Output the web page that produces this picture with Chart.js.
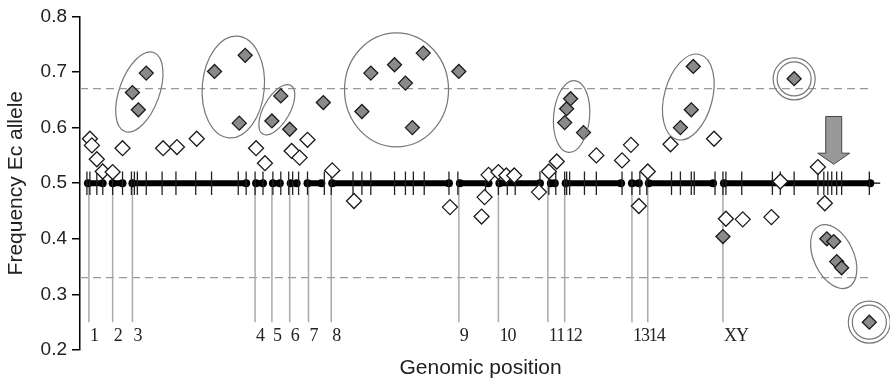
<!DOCTYPE html>
<html>
<head>
<meta charset="utf-8">
<script src="https://cdn.jsdelivr.net/npm/chart.js@4"></script>
<style>
  html, body { margin: 0; padding: 0; background: #fff; }
  #wrap { width: 890px; height: 381px; }
</style>
</head>
<body>
<div id="wrap"><canvas id="chart"></canvas></div>
<script>
// allele frequencies, open diamonds (not significant)
const whitePos = [10, 12, 17, 23, 33, 43, 84, 98, 118, 178, 187, 214, 222, 230, 255, 277, 374, 406, 409, 413, 423, 431, 439, 464, 474, 482, 522, 548, 557, 565, 574, 597, 641, 653, 670, 699, 708, 746, 753];
const whiteFreq = [0.580, 0.568, 0.543, 0.521, 0.520, 0.563, 0.563, 0.565, 0.580, 0.563, 0.536, 0.558, 0.546, 0.578, 0.523, 0.468, 0.457, 0.440, 0.475, 0.515, 0.520, 0.514, 0.514, 0.484, 0.521, 0.539, 0.550, 0.541, 0.569, 0.459, 0.521, 0.570, 0.580, 0.436, 0.435, 0.439, 0.503, 0.529, 0.464];

// filled diamonds (significant deviation)
const grayPos = [53, 59, 67, 136, 161, 167, 194, 203, 212, 246, 285, 294, 318, 329, 336, 347, 383, 490, 492, 496, 509, 607, 618, 620, 650, 722, 755, 762, 765, 770, 798];
const grayFreq = [0.663, 0.632, 0.698, 0.701, 0.608, 0.730, 0.612, 0.657, 0.597, 0.645, 0.629, 0.698, 0.713, 0.680, 0.600, 0.734, 0.701, 0.609, 0.634, 0.652, 0.591, 0.600, 0.632, 0.710, 0.404, 0.688, 0.400, 0.395, 0.359, 0.348, 0.250];

// markers on the genome line
const markerPos = [7, 10, 17, 23, 33, 43, 52, 55, 58, 67, 83, 97, 117, 133, 160, 168, 177, 185, 195, 203, 211, 215, 221, 230, 247, 254, 276, 285, 294, 318, 329, 337, 348, 373, 382, 410, 423, 432, 440, 465, 474, 481, 490, 492, 495, 510, 522, 548, 558, 566, 573, 598, 607, 618, 621, 642, 650, 653, 669, 700, 708, 722, 746, 752, 756, 760, 765, 770, 798];

// chromosome stretches on the genome line
const segStart = [8, 33, 53, 178, 195, 213, 230, 255, 384, 424, 476, 491, 558, 575, 651];
const segEnd = [23, 43, 168, 185, 202, 219, 244, 373, 413, 465, 480, 547, 565, 640, 799];

// chromosome starts and names
const chromPos = [9, 33, 53, 177, 194, 212, 231, 254, 383, 423, 473, 490, 558, 574, 650];
const chromLabels = ['1', '2', '3', '4', '5', '6', '7', '8', '9', '10', '11', '12', '13', '14', 'XY'];

const thresholds = [0.67, 0.33];

// groups circled in the figure: [position, frequency]
const groupCenters = [[60, 0.664], [155, 0.673], [199, 0.632], [320, 0.668], [497, 0.620], [615, 0.655], [762, 0.368]];
const singleCenters = [[722, 0.6875], [798, 0.25]];
const arrowAt = [762, 0.62, 0.554, 0.534];

function gapped(pairs) {
  const out = [];
  pairs.forEach(p => { out.push(p[0], p[1], { x: p[0].x, y: null }); });
  return out;
}

const tickData = gapped(markerPos.map(p => [{ x: p, y: 0.479 }, { x: p, y: 0.521 }]));
const segData = gapped(segStart.map((s, i) => [{ x: s, y: 0.5 }, { x: segEnd[i], y: 0.5 }]));
const chromData = gapped(chromPos.map(p => [{ x: p, y: 0.5 }, { x: p, y: 0.25 }]));

const ellipseStyle = [
  [20, 42, 20], [31, 51, 5], [13, 28, 30], [52, 57, 0], [18, 36, 5], [24, 44, 15], [20, 34, -25]
];

const annotate = {
  id: 'annotate',
  afterDatasetsDraw(chart) {
    const ctx = chart.ctx, xs = chart.scales.x, ys = chart.scales.y;
    ctx.save();
    // chromosome names
    ctx.fillStyle = '#222';
    ctx.font = '18px "Liberation Serif", serif';
    ctx.letterSpacing = '-1px';
    ctx.textBaseline = 'middle';
    ctx.textAlign = 'left';
    chromPos.forEach((p, i) => {
      ctx.fillText(chromLabels[i], xs.getPixelForValue(p) + 1, ys.getPixelForValue(0.5) + 153);
    });
    ctx.letterSpacing = '0px';
    // ellipses
    ctx.strokeStyle = '#777';
    ctx.lineWidth = 1.2;
    groupCenters.forEach((c, i) => {
      const s = ellipseStyle[i];
      ctx.beginPath();
      ctx.ellipse(xs.getPixelForValue(c[0]), ys.getPixelForValue(c[1]), s[0], s[1], s[2] * Math.PI / 180, 0, Math.PI * 2);
      ctx.stroke();
    });
    singleCenters.forEach(c => {
      [21, 17].forEach(r => {
        ctx.beginPath();
        ctx.arc(xs.getPixelForValue(c[0]), ys.getPixelForValue(c[1]), r, 0, Math.PI * 2);
        ctx.stroke();
      });
    });
    // arrow
    const ax = xs.getPixelForValue(arrowAt[0]);
    const top = ys.getPixelForValue(arrowAt[1]);
    const base = ys.getPixelForValue(arrowAt[2]);
    const tip = ys.getPixelForValue(arrowAt[3]);
    ctx.beginPath();
    ctx.moveTo(ax - 8, top);
    ctx.lineTo(ax + 8, top);
    ctx.lineTo(ax + 8, base);
    ctx.lineTo(ax + 16, base);
    ctx.lineTo(ax, tip);
    ctx.lineTo(ax - 16, base);
    ctx.lineTo(ax - 8, base);
    ctx.closePath();
    ctx.fillStyle = '#999';
    ctx.fill();
    ctx.strokeStyle = '#444';
    ctx.lineWidth = 1;
    ctx.stroke();
    ctx.restore();
  }
};

new Chart(document.getElementById('chart'), {
  type: 'scatter',
  data: {
    datasets: [
      {
        label: 'significant',
        data: grayPos.map((p, i) => ({ x: p, y: grayFreq[i] })),
        pointStyle: 'rectRot',
        pointRadius: 7,
        backgroundColor: '#8a8a8a',
        borderColor: '#1a1a1a',
        borderWidth: 1.3,
        order: 0
      },
      {
        label: 'not significant',
        data: whitePos.map((p, i) => ({ x: p, y: whiteFreq[i] })),
        pointStyle: 'rectRot',
        pointRadius: 7.5,
        backgroundColor: '#fff',
        borderColor: '#1a1a1a',
        borderWidth: 1.3,
        order: 1
      },
      {
        label: 'markers',
        data: tickData,
        showLine: true,
        spanGaps: false,
        borderColor: '#222',
        borderWidth: 1.3,
        pointRadius: 0,
        order: 2
      },
      {
        label: 'genome',
        data: segData,
        showLine: true,
        spanGaps: false,
        borderColor: '#000',
        borderWidth: 6,
        pointStyle: 'circle',
        pointRadius: 4,
        pointBackgroundColor: '#000',
        pointBorderWidth: 0,
        order: 3
      },
      {
        label: 'genome end',
        data: [{ x: 799, y: 0.5 }, { x: 809, y: 0.5 }],
        showLine: true,
        borderColor: '#000',
        borderWidth: 1.3,
        pointRadius: 0,
        order: 4
      },
      {
        label: 'chromosomes',
        data: chromData,
        showLine: true,
        spanGaps: false,
        borderColor: '#aaa',
        borderWidth: 1.5,
        pointRadius: 0,
        order: 5
      },
      ...thresholds.map((t, i) => ({
        label: 'threshold ' + t,
        data: [{ x: 0, y: t }, { x: 800, y: t }],
        showLine: true,
        borderColor: '#999',
        borderWidth: 1.2,
        borderDash: [8, 5],
        pointRadius: 0,
        order: 6 + i
      }))
    ]
  },
  options: {
    responsive: true,
    maintainAspectRatio: false,
    animation: false,
    layout: { padding: { top: 14, right: 0, left: 0, bottom: 0 } },
    plugins: {
      legend: { display: false },
      tooltip: { enabled: false }
    },
    scales: {
      x: {
        type: 'linear',
        min: 0,
        max: 810,
        grid: { display: false },
        border: { display: false },
        ticks: { display: false },
        title: {
          display: true,
          text: 'Genomic position',
          color: '#222',
          font: { family: '"Liberation Sans", Arial, sans-serif', size: 21 },
          padding: { top: 0, bottom: 0 }
        },
        afterFit(scale) { scale.height = 31; }
      },
      y: {
        min: 0.2,
        max: 0.8,
        ticks: {
          stepSize: 0.1,
          color: '#222',
          padding: 5,
          font: { family: '"Liberation Sans", Arial, sans-serif', size: 19 },
          callback: v => v.toFixed(1)
        },
        grid: { drawOnChartArea: false, drawTicks: true, tickLength: 8, color: '#000', lineWidth: 1.5 },
        border: { display: true, color: '#000', width: 1.5 },
        title: {
          display: true,
          text: 'Frequency Ec allele',
          color: '#222',
          font: { family: '"Liberation Sans", Arial, sans-serif', size: 21 },
          padding: { top: 4, bottom: 0 }
        },
        afterFit(scale) { scale.width = 80; }
      }
    }
  },
  plugins: [annotate]
});
</script>
</body>
</html>
